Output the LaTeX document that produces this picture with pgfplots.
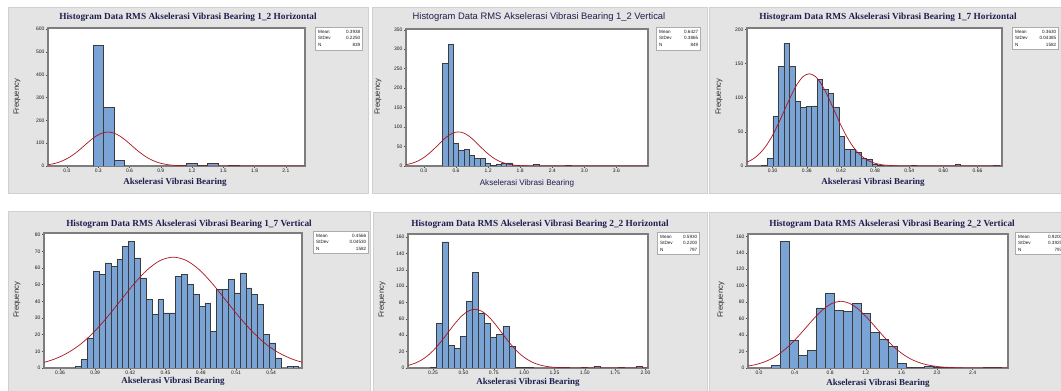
\documentclass[border=0pt]{standalone}
\usepackage{fontspec}
\setmainfont{Liberation Serif}
\newfontfamily\sans{Liberation Sans}
\usepackage{pgfplots}
\pgfplotsset{compat=1.18}

\definecolor{panelgray}{RGB}{228,228,228}
\definecolor{panelline}{RGB}{208,208,208}
\definecolor{barfill}{RGB}{122,163,214}
\definecolor{baredge}{RGB}{60,60,60}
\definecolor{curvered}{RGB}{170,20,30}
\definecolor{framegray}{RGB}{125,125,125}
\definecolor{titleblue}{RGB}{30,30,80}

\pgfplotsset{
 mini/.style={
   scale only axis, anchor=north west,
   axis line style={framegray, line width=1.3pt},
   axis background/.style={fill=white},
   tick align=outside, tick pos=left,
   major tick length=2pt,
   tick style={black!70, line width=0.4pt},
   tick label style={font=\sans\fontsize{5}{5.5}\selectfont, text=black!90, inner sep=1.3pt},
   /pgf/number format/assume math mode=true,
   ymin=0,
   yticklabel style={/pgf/number format/.cd, fixed, precision=0},
 },
 histbar/.style={ybar, fill=barfill, draw=baredge, line width=0.7pt},
 ncurve/.style={curvered, line width=0.7pt, smooth, no marks},
}
\tikzset{
 ttl/.style={font=\bfseries\fontsize{9.3}{11}\selectfont, text=titleblue},
 ttlsans/.style={font=\sans\fontsize{9.4}{11}\selectfont, text=titleblue},
 xlab/.style={font=\bfseries\fontsize{9}{10}\selectfont, text=titleblue},
 xlabsans/.style={font=\sans\fontsize{8.1}{9}\selectfont, text=titleblue},
 ylab/.style={font=\sans\fontsize{7.6}{8}\selectfont, rotate=90, text=black!85},
 sbox/.style={draw=gray!65, line width=1pt, fill=white},
 stxt/.style={font=\sans\fontsize{4.6}{6.3}\selectfont, anchor=north west, inner sep=0pt, align=left, text=black!90},
}

\begin{document}
\begin{tikzpicture}
\useasboundingbox (0pt,0pt) rectangle (1061pt,391pt);
\fill[white] (0pt,0pt) rectangle (1061pt,391pt);
\foreach \a/\b/\c/\d in {8/198/368/384, 372/198/707/384, 709/198/1066/384, 8/-4/370/180, 373/-4/707/179, 709/-4/1066/179}
  \draw[panelline, fill=panelgray, line width=0.8pt] (\a pt,\b pt) rectangle (\c pt,\d pt);

% ---------------- Panel 1
\begin{axis}[mini, at={(48pt,363pt)}, width=257pt, height=138pt,
  xmin=-0.182, xmax=2.284, ymax=605,
  xtick={0,0.3,0.6,0.9,1.2,1.5,1.8,2.1}, ytick={0,100,200,300,400,500,600},
  xticklabel style={/pgf/number format/.cd,fixed,fixed zerofill,precision=1}]
\addplot[histbar, bar width=0.1] coordinates {(0.3,528) (0.4,258) (0.5,25) (1.1,2) (1.2,12) (1.3,2) (1.4,12) (1.6,3)};
\addplot[ncurve] coordinates {(-0.281,1.65) (-0.225,3.40) (-0.169,6.54) (-0.112,11.86) (-0.056,20.16) (0.000,32.23) (0.057,48.38) (0.113,68.21) (0.169,90.37) (0.225,112.47) (0.281,131.49) (0.338,144.41) (0.394,149) (0.450,144.41) (0.507,131.49) (0.563,112.47) (0.619,90.37) (0.675,68.21) (0.732,48.38) (0.788,32.23) (0.844,20.16) (0.900,11.86) (0.957,6.54) (1.013,3.40) (1.069,1.65) (1.182,0.33) (1.294,0.05) (1.5,0) (2.3,0)};
\end{axis}
\node[ttl] at (188pt,374pt) {Histogram Data RMS Akselerasi Vibrasi Bearing 1\_2 Horizontal};
\node[xlab] at (175pt,209pt) {Akselerasi Vibrasi Bearing};
\node[ylab] at (17pt,294pt) {Frequency};
\draw[sbox] (315pt,340pt) rectangle (362pt,363pt);
\node[stxt, text width=42pt] at (318pt,361pt) {Mean\hfill 0.3938\\StDev\hfill 0.2250\\N\hfill 839};

% ---------------- Panel 2
\begin{axis}[mini, at={(406pt,362pt)}, width=242pt, height=137pt,
  xmin=-0.336, xmax=4.19, ymax=352,
  xtick={0,0.6,1.2,1.8,2.4,3.0,3.6}, ytick={0,50,100,150,200,250,300,350},
  xticklabel style={/pgf/number format/.cd,fixed,fixed zerofill,precision=1}]
\addplot[histbar, bar width=0.1] coordinates {(0.4,264) (0.5,313) (0.6,58) (0.7,40) (0.8,42) (0.9,27) (1.0,19) (1.1,19) (1.2,6) (1.3,1) (1.4,3) (1.5,8) (1.6,8) (2.1,4) (2.7,1)};
\addplot[ncurve] coordinates {(-0.517,0.97) (-0.420,2.00) (-0.323,3.85) (-0.227,6.97) (-0.130,11.85) (-0.033,18.95) (0.063,28.44) (0.160,40.10) (0.257,53.13) (0.353,66.12) (0.450,77.31) (0.546,84.90) (0.643,87.6) (0.740,84.90) (0.836,77.31) (0.933,66.12) (1.030,53.13) (1.126,40.10) (1.223,28.44) (1.319,18.95) (1.416,11.85) (1.513,6.97) (1.609,3.85) (1.706,2.00) (1.803,0.97) (1.996,0.19) (2.189,0.03) (2.5,0) (4.2,0)};
\end{axis}
\node[ttlsans] at (539pt,374pt) {Histogram Data RMS Akselerasi Vibrasi Bearing 1\_2 Vertical};
\node[xlabsans] at (527pt,208pt) {Akselerasi Vibrasi Bearing};
\node[ylab] at (378pt,294pt) {Frequency};
\draw[sbox] (656pt,340pt) rectangle (700pt,363pt);
\node[stxt, text width=39pt] at (659pt,361pt) {Mean\hfill 0.6427\\StDev\hfill 0.3865\\N\hfill 849};

% ---------------- Panel 3
\begin{axis}[mini, at={(747pt,363pt)}, width=255pt, height=138pt,
  xmin=0.255, xmax=0.703, ymax=202,
  xtick={0.30,0.36,0.42,0.48,0.54,0.60,0.66}, ytick={0,50,100,150,200},
  xticklabel style={/pgf/number format/.cd,fixed,fixed zerofill,precision=2}]
\addplot[histbar, bar width=0.0097] coordinates {(0.2859,1) (0.2956,11) (0.3053,72) (0.3150,146) (0.3247,180) (0.3344,146) (0.3441,94) (0.3538,86) (0.3635,87) (0.3732,88) (0.3829,127) (0.3926,112) (0.4023,106) (0.4120,86) (0.4217,43) (0.4314,24) (0.4411,24) (0.4508,20) (0.4605,11) (0.4702,9) (0.4799,3) (0.4896,1) (0.5478,1) (0.6254,2) (0.6933,1)};
\addplot[ncurve] coordinates {(0.2339,1.50) (0.2448,3.08) (0.2557,5.93) (0.2665,10.75) (0.2774,18.27) (0.2883,29.20) (0.2992,43.83) (0.3100,61.80) (0.3209,81.88) (0.3318,101.90) (0.3427,119.14) (0.3535,130.84) (0.3644,135) (0.3753,130.84) (0.3862,119.14) (0.3970,101.90) (0.4079,81.88) (0.4188,61.80) (0.4297,43.83) (0.4405,29.20) (0.4514,18.27) (0.4623,10.75) (0.4732,5.93) (0.4840,3.08) (0.4949,1.50) (0.5167,0.30) (0.5384,0.05) (0.56,0) (0.71,0)};
\end{axis}
\node[ttl] at (888pt,374pt) {Histogram Data RMS Akselerasi Vibrasi Bearing 1\_7 Horizontal};
\node[xlab] at (873pt,209pt) {Akselerasi Vibrasi Bearing};
\node[ylab] at (719pt,294pt) {Frequency};
\draw[sbox] (1012pt,341pt) rectangle (1058pt,363pt);
\node[stxt, text width=41pt] at (1015pt,361pt) {Mean\hfill 0.3630\\StDev\hfill 0.04385\\N\hfill 1582};

% ---------------- Panel 4
\begin{axis}[mini, at={(44pt,158pt)}, width=258pt, height=135pt,
  xmin=0.3464, xmax=0.5663, ymax=81,
  xtick={0.36,0.39,0.42,0.45,0.48,0.51,0.54}, ytick={0,10,20,30,40,50,60,70,80},
  xticklabel style={/pgf/number format/.cd,fixed,fixed zerofill,precision=2}]
\addplot[histbar, bar width=0.005] coordinates {(0.376,1) (0.381,5) (0.386,18) (0.391,58) (0.396,56) (0.401,63) (0.406,61) (0.411,65) (0.416,73) (0.421,76) (0.426,66) (0.431,54) (0.436,41) (0.441,32) (0.446,41) (0.451,33) (0.456,33) (0.461,55) (0.466,56) (0.471,50) (0.476,44) (0.481,37) (0.486,39) (0.491,22) (0.496,47) (0.501,47) (0.506,53) (0.511,45) (0.516,57) (0.521,48) (0.526,44) (0.531,38) (0.536,20) (0.541,15) (0.546,6) (0.556,1) (0.561,1)};
\addplot[ncurve] coordinates {(0.3213,0.74) (0.3326,1.52) (0.3439,2.92) (0.3551,5.29) (0.3664,9.00) (0.3777,14.38) (0.3890,21.59) (0.4002,30.44) (0.4115,40.33) (0.4228,50.19) (0.4341,58.69) (0.4453,64.45) (0.4566,66.5) (0.4679,64.45) (0.4792,58.69) (0.4904,50.19) (0.5017,40.33) (0.5130,30.44) (0.5243,21.59) (0.5355,14.38) (0.5468,9.00) (0.5581,5.29) (0.5694,2.92) (0.5806,1.52)};
\end{axis}
\node[ttl] at (189pt,167pt) {Histogram Data RMS Akselerasi Vibrasi Bearing 1\_7 Vertical};
\node[xlab] at (173pt,10pt) {Akselerasi Vibrasi Bearing};
\node[ylab] at (17pt,91pt) {Frequency};
\draw[sbox] (313pt,137pt) rectangle (368pt,159pt);
\node[stxt, text width=50pt] at (316pt,157pt) {Mean\hfill 0.4566\\StDev\hfill 0.04530\\N\hfill 1582};

% ---------------- Panel 5
\begin{axis}[mini, at={(408pt,157pt)}, width=240pt, height=134pt,
  xmin=0.0434, xmax=2.021, ymax=163.7,
  xtick={0.25,0.50,0.75,1.00,1.25,1.50,1.75,2.00}, ytick={0,20,40,60,80,100,120,140,160},
  xticklabel style={/pgf/number format/.cd,fixed,fixed zerofill,precision=2}]
\addplot[histbar, bar width=0.05] coordinates {(0.25,1) (0.30,54) (0.35,154) (0.40,28) (0.45,24) (0.50,39) (0.55,81) (0.60,117) (0.65,67) (0.70,54) (0.75,37) (0.80,41) (0.85,51) (0.90,26) (0.95,1) (1.00,1) (1.05,1) (1.30,1) (1.35,1) (1.50,1) (1.60,2) (1.80,1) (1.95,2)};
\addplot[ncurve] coordinates {(-0.066,0.80) (-0.011,1.63) (0.044,3.15) (0.099,5.71) (0.154,9.70) (0.209,15.51) (0.264,23.28) (0.319,32.82) (0.374,43.49) (0.429,54.12) (0.484,63.28) (0.539,69.49) (0.594,71.7) (0.649,69.49) (0.704,63.28) (0.759,54.12) (0.814,43.49) (0.869,32.82) (0.924,23.28) (0.979,15.51) (1.034,9.70) (1.089,5.71) (1.144,3.15) (1.199,1.63) (1.254,0.80) (1.364,0.16) (1.474,0.02) (1.6,0) (2.05,0)};
\end{axis}
\node[ttl] at (540pt,167pt) {Histogram Data RMS Akselerasi Vibrasi Bearing 2\_2 Horizontal};
\node[xlab] at (528pt,9pt) {Akselerasi Vibrasi Bearing};
\node[ylab] at (382pt,91pt) {Frequency};
\draw[sbox] (657pt,136pt) rectangle (699pt,158pt);
\node[stxt, text width=37pt] at (660pt,156pt) {Mean\hfill 0.5930\\StDev\hfill 0.2200\\N\hfill 797};

% ---------------- Panel 6
\begin{axis}[mini, at={(748pt,157pt)}, width=260pt, height=134pt,
  xmin=-0.1236, xmax=2.798, ymax=162.8,
  xtick={0,0.4,0.8,1.2,1.6,2.0,2.4}, ytick={0,20,40,60,80,100,120,140,160},
  xticklabel style={/pgf/number format/.cd,fixed,fixed zerofill,precision=1}]
\addplot[histbar, bar width=0.1017] coordinates {(0.186,3) (0.287,154) (0.389,33) (0.490,15) (0.592,21) (0.694,73) (0.795,91) (0.897,70) (0.999,69) (1.100,78) (1.202,66) (1.304,43) (1.405,35) (1.507,26) (1.609,6) (1.710,1) (1.812,1) (1.914,2) (2.015,1) (2.117,1) (2.575,1) (2.677,1)};
\addplot[ncurve] coordinates {(-0.2575,0.90) (-0.159,1.85) (-0.061,3.56) (0.037,6.45) (0.135,10.96) (0.233,17.52) (0.331,26.30) (0.429,37.08) (0.528,49.13) (0.626,61.14) (0.724,71.48) (0.822,78.51) (0.920,81) (1.018,78.51) (1.116,71.48) (1.214,61.14) (1.313,49.13) (1.411,37.08) (1.509,26.30) (1.607,17.52) (1.705,10.96) (1.803,6.45) (1.901,3.56) (1.999,1.85) (2.098,0.90) (2.294,0.18) (2.49,0.03) (2.6,0) (2.8,0)};
\end{axis}
\node[ttl] at (892pt,167pt) {Histogram Data RMS Akselerasi Vibrasi Bearing 2\_2 Vertical};
\node[xlab] at (878pt,8pt) {Akselerasi Vibrasi Bearing};
\node[ylab] at (721pt,91pt) {Frequency};
\draw[sbox] (1015pt,136pt) rectangle (1066pt,158pt);
\node[stxt, text width=44pt] at (1018pt,156pt) {Mean\hfill 0.9200\\StDev\hfill 0.3925\\N\hfill 797};
\end{tikzpicture}
\end{document}
